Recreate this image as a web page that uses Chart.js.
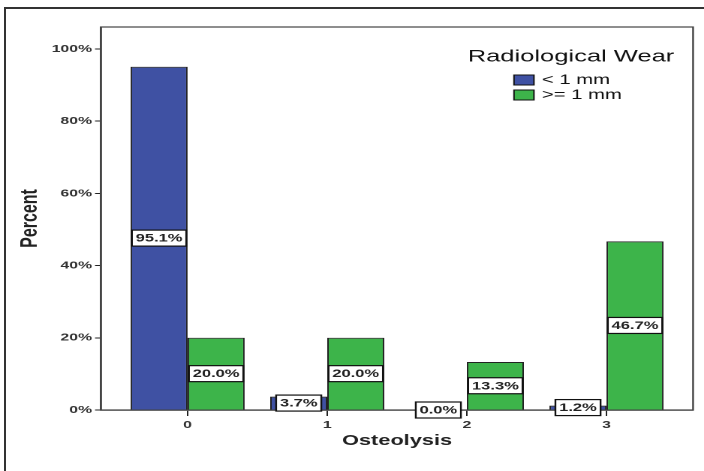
<!DOCTYPE html>
<html>
<head>
<meta charset="utf-8">
<script src="https://cdn.jsdelivr.net/npm/chart.js@4"></script>
<style>
  html, body { margin: 0; padding: 0; background: #fff; overflow: hidden; width: 704px; height: 471px; }
  #frame { position: absolute; left: 4px; top: 7px; width: 720px; height: 490px; border: 2px solid #333; box-sizing: border-box; }
  #wrap { position: absolute; left: 0; top: 0; width: 469px; height: 471px; transform: scaleX(1.5011); transform-origin: 0 0; }
</style>
</head>
<body>
<div id="frame"></div>
<div id="wrap"><canvas id="c"></canvas></div>
<script>
// ---- data ----
const categories = ['0', '1', '2', '3'];
const seriesLabels = ['< 1 mm', '>= 1 mm'];
const lessThan1mm = [95.1, 3.7, 0.0, 1.2];
const atLeast1mm = [20.0, 20.0, 13.3, 46.7];
const yTickValues = [0, 20, 40, 60, 80, 100];
const legendTitle = 'Radiological Wear';
const xTitle = 'Osteolysis';
const yTitle = 'Percent';

const FONT = "'Liberation Sans', Arial, sans-serif";
const BLUE = '#3f51a3';
const GREEN = '#3db44a';

const frameBox = {
  id: 'frameBox',
  beforeDatasetsDraw(chart) {
    const { ctx, chartArea: a } = chart;
    ctx.save();
    ctx.strokeStyle = '#444';
    ctx.lineWidth = 1.2;
    ctx.strokeRect(a.left, a.top, a.right - a.left, a.bottom - a.top);
    ctx.restore();
  }
};

const valueLabels = {
  id: 'valueLabels',
  afterDatasetsDraw(chart) {
    const { ctx } = chart;
    ctx.save();
    ctx.font = "bold 11px " + FONT;
    ctx.textAlign = 'center';
    ctx.textBaseline = 'middle';
    chart.data.datasets.forEach((ds, di) => {
      const meta = chart.getDatasetMeta(di);
      meta.data.forEach((bar, i) => {
        const v = ds.data[i].y;
        const txt = v.toFixed(1) + '%';
        const cx = bar.x;
        const cy = (bar.y + bar.base) / 2;
        const w = ctx.measureText(txt).width + 5;
        const h = 16;
        ctx.fillStyle = '#fff';
        ctx.fillRect(cx - w / 2, cy - h / 2, w, h);
        ctx.strokeStyle = '#111';
        ctx.lineWidth = 1.2;
        ctx.strokeRect(cx - w / 2, cy - h / 2, w, h);
        ctx.fillStyle = '#222';
        ctx.fillText(txt, cx, cy + 0.5);
      });
    });
    ctx.restore();
  }
};

const customLegend = {
  id: 'customLegend',
  afterDraw(chart) {
    const { ctx } = chart;
    ctx.save();
    ctx.fillStyle = '#111';
    ctx.textBaseline = 'middle';
    ctx.textAlign = 'center';
    ctx.font = "17px " + FONT;
    ctx.fillText(legendTitle, 380.4, 57);
    ctx.textAlign = 'left';
    ctx.font = "13.5px " + FONT;
    const rows = [80, 95];
    chart.data.datasets.forEach((ds, i) => {
      const y = rows[i];
      ctx.fillStyle = ds.backgroundColor;
      ctx.fillRect(342.4, y - 5, 13.3, 10);
      ctx.strokeStyle = '#111';
      ctx.lineWidth = 1;
      ctx.strokeRect(342.4, y - 5, 13.3, 10);
      ctx.fillStyle = '#111';
      ctx.fillText(ds.label, 361, y + 0.5);
    });
    ctx.restore();
  }
};

new Chart(document.getElementById('c'), {
  type: 'bar',
  data: {
    datasets: [
      {
        label: seriesLabels[0],
        data: lessThan1mm.map((v, i) => ({ x: i, y: v })),
        backgroundColor: BLUE,
        borderColor: '#222',
        borderWidth: 1
      },
      {
        label: seriesLabels[1],
        data: atLeast1mm.map((v, i) => ({ x: i, y: v })),
        backgroundColor: GREEN,
        borderColor: '#222',
        borderWidth: 1
      }
    ]
  },
  options: {
    responsive: true,
    maintainAspectRatio: false,
    animation: false,
    devicePixelRatio: 2,
    categoryPercentage: 0.817,
    barPercentage: 1.0,
    layout: { padding: { top: 27, right: 7.3, left: 0, bottom: 0 } },
    plugins: {
      legend: { display: false },
      tooltip: { enabled: false }
    },
    scales: {
      x: {
        type: 'linear',
        offset: false,
        min: -0.62,
        max: 3.62,
        afterBuildTicks(scale) { scale.ticks = categories.map((c, i) => ({ value: i })); },
        afterFit(scale) { scale.height = 61; },
        ticks: {
          callback: (v) => categories[v],
          font: { family: FONT, size: 10.5, weight: 'bold' },
          color: '#333',
          padding: 3,
          maxRotation: 0
        },
        grid: { offset: false, drawOnChartArea: false, tickLength: 6, color: '#222', lineWidth: 1 },
        border: { display: true, color: '#444', width: 1.2 },
        title: {
          display: true,
          text: xTitle,
          font: { family: FONT, size: 14.5, weight: 'bold' },
          color: '#222',
          padding: { top: 0, bottom: 21.3 }
        }
      },
      y: {
        min: 0,
        max: 106.1,
        afterBuildTicks(scale) { scale.ticks = yTickValues.map(v => ({ value: v })); },
        afterFit(scale) { scale.width = 67.3; },
        ticks: {
          callback: (v) => v + '%',
          font: { family: FONT, size: 10.5, weight: 'bold' },
          color: '#333',
          padding: 2
        },
        grid: { drawOnChartArea: false, tickLength: 4, color: '#222', lineWidth: 1 },
        border: { display: true, color: '#444', width: 1.2 },
        title: {
          display: true,
          text: yTitle,
          font: { family: FONT, size: 16, weight: 'bold' },
          color: '#222',
          padding: { top: 10.4, bottom: 0 }
        }
      }
    }
  },
  plugins: [frameBox, valueLabels, customLegend]
});
</script>
</body>
</html>
